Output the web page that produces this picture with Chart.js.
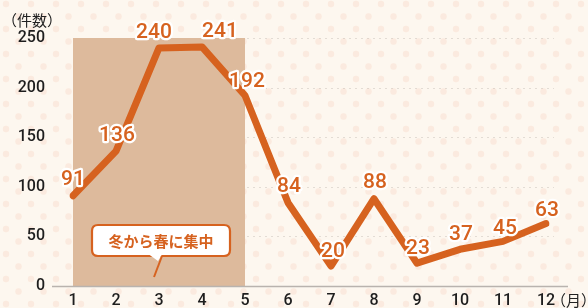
<!DOCTYPE html>
<html><head><meta charset="utf-8">
<script src="https://cdn.jsdelivr.net/npm/chart.js@4"></script>
<style>html,body{margin:0;padding:0;background:#fdf7ef;}#wrap{width:588px;height:308px;position:relative;}</style>
</head><body><div id="wrap"><canvas id="c" width="588" height="308"></canvas></div>
<script>
const months = ['1','2','3','4','5','6','7','8','9','10','11','12'];
const counts = [91,136,240,241,192,84,20,88,23,37,45,63];
const yTicks = [0,50,100,150,200,250];
const yUnit = '（件数）';
const xUnit = '（月）';
const calloutText = '冬から春に集中';
const shadeFrom = 0, shadeTo = 4; // month indices 1..5
// label offsets (px) [dx, dy]
const labelOffsets = [[0,-16],[1,-15],[-5,-15],[18,-15],[2,-14],[1,-16],[2,-14],[1,-16],[1,-14],[1,-15],[2,-13],[1,-13]];

const ORANGE = '#d6621f';

const bgPlugin = {
  id:'bg',
  beforeDraw(chart){
    const ctx = chart.ctx;
    ctx.save();
    ctx.fillStyle = '#fdf7ef';
    ctx.fillRect(0,0,chart.width,chart.height);
    ctx.fillStyle = 'rgba(250,205,185,0.3)';
    let row = 0;
    for (let y = 4; y < chart.height + 10; y += 12.5, row++) {
      const off = (row % 2) ? 12.5 : 0;
      for (let x = 6 + off; x < chart.width + 10; x += 25) {
        ctx.beginPath(); ctx.arc(x, y, 3.2, 0, Math.PI*2); ctx.fill();
      }
    }
    ctx.restore();
  },
  beforeDatasetsDraw(chart){
    const ctx = chart.ctx, xs = chart.scales.x, ys = chart.scales.y;
    const ca = chart.chartArea;
    ctx.save();
    // faint dotted grid
    ctx.strokeStyle = 'rgba(170,160,150,0.3)';
    ctx.lineWidth = 1;
    ctx.setLineDash([2,4]);
    yTicks.forEach(v => {
      if (v === 0) return;
      const y = Math.round(ys.getPixelForValue(v)) + 0.5;
      ctx.beginPath(); ctx.moveTo(ca.left, y); ctx.lineTo(ca.right + 8, y); ctx.stroke();
    });
    ctx.setLineDash([]);
    // shaded region
    const x0 = xs.getPixelForValue(shadeFrom), x1 = xs.getPixelForValue(shadeTo);
    const yTop = ys.getPixelForValue(yTicks[yTicks.length-1]), yBot = ys.getPixelForValue(0);
    ctx.fillStyle = '#ddba9c';
    ctx.fillRect(x0, yTop, x1 - x0, yBot - yTop);
    // baseline
    ctx.strokeStyle = '#b9b3ae';
    ctx.lineWidth = 1.5;
    ctx.beginPath(); ctx.moveTo(52, yBot + 0.5); ctx.lineTo(568, yBot + 0.5); ctx.stroke();
    // callout
    const bx = 92, by = 225, bw = 138, bh = 31, r = 6;
    ctx.fillStyle = '#ffffff';
    ctx.strokeStyle = ORANGE;
    ctx.lineWidth = 2.2;
    ctx.beginPath();
    ctx.moveTo(bx + r, by);
    ctx.lineTo(bx + bw - r, by); ctx.quadraticCurveTo(bx + bw, by, bx + bw, by + r);
    ctx.lineTo(bx + bw, by + bh - r); ctx.quadraticCurveTo(bx + bw, by + bh, bx + bw - r, by + bh);
    ctx.lineTo(bx + r, by + bh); ctx.quadraticCurveTo(bx, by + bh, bx, by + bh - r);
    ctx.lineTo(bx, by + r); ctx.quadraticCurveTo(bx, by, bx + r, by);
    ctx.closePath(); ctx.fill(); ctx.stroke();
    // tail
    ctx.fillStyle = '#ffffff';
    ctx.beginPath(); ctx.moveTo(149, by + bh - 1.5); ctx.lineTo(162, by + bh - 1.5); ctx.lineTo(158, by + bh + 5); ctx.closePath(); ctx.fill();
    ctx.lineWidth = 2;
    ctx.beginPath(); ctx.moveTo(162, by + bh); ctx.lineTo(154, 277); ctx.stroke();
    ctx.fillStyle = ORANGE;
    ctx.font = 'bold 15px "Noto Sans CJK JP"';
    ctx.textAlign = 'center'; ctx.textBaseline = 'middle';
    ctx.fillText(calloutText, bx + bw/2, by + bh/2 + 1);
    ctx.restore();
  },
  afterDatasetsDraw(chart){
    const ctx = chart.ctx;
    const meta = chart.getDatasetMeta(0);
    ctx.save();
    ctx.font = '500 21px Roboto';
    ctx.textAlign = 'center'; ctx.textBaseline = 'middle';
    ctx.lineJoin = 'round';
    meta.data.forEach((pt, i) => {
      const [dx, dy] = labelOffsets[i];
      const t = String(counts[i]);
      ctx.strokeStyle = '#ffffff'; ctx.lineWidth = 4.5;
      ctx.strokeText(t, pt.x + dx, pt.y + dy);
      ctx.fillStyle = ORANGE;
      ctx.fillText(t, pt.x + dx, pt.y + dy);
    });
    // units
    ctx.fillStyle = '#222';
    ctx.font = '15px "Noto Sans CJK JP"';
    ctx.textAlign = 'center'; 
    ctx.fillText(yUnit, 32, 20);
    ctx.textAlign = 'left';
    ctx.fillText(xUnit, 551, 300);
    ctx.restore();
  }
};

new Chart(document.getElementById('c'), {
  type: 'line',
  data: { labels: months, datasets: [{
    data: counts,
    borderColor: ORANGE,
    borderWidth: 7,
    borderCapStyle: 'round',
    borderJoinStyle: 'round',
    pointRadius: 0,
    tension: 0,
    fill: false
  }]},
  options: {
    responsive: false,
    animation: false,
    devicePixelRatio: 1,
    layout: { padding: { left: 0, right: 42, top: 38, bottom: 0 } },
    plugins: { legend: { display: false }, tooltip: { enabled: false } },
    scales: {
      x: {
        offset: false,
        grid: { display: false, drawTicks: false },
        border: { display: false },
        ticks: { color: '#1e1e1e', font: { family: 'Roboto', size: 16, weight: '500' }, padding: 5, maxRotation: 0, autoSkip: false },
        afterFit(s){ s.height = 22; s.paddingLeft = 0; s.paddingRight = 0; }
      },
      y: {
        min: 0, max: 250,
        grid: { display: false, drawTicks: false },
        border: { display: false },
        afterBuildTicks(s){ s.ticks = yTicks.map(v => ({ value: v })); },
        ticks: { color: '#1e1e1e', font: { family: 'Roboto', size: 16, weight: '500' }, padding: 28 },
        afterFit(s){ s.width = 73; s.paddingTop = 0; s.paddingBottom = 0; }
      }
    }
  },
  plugins: [bgPlugin]
});
</script></body></html>
